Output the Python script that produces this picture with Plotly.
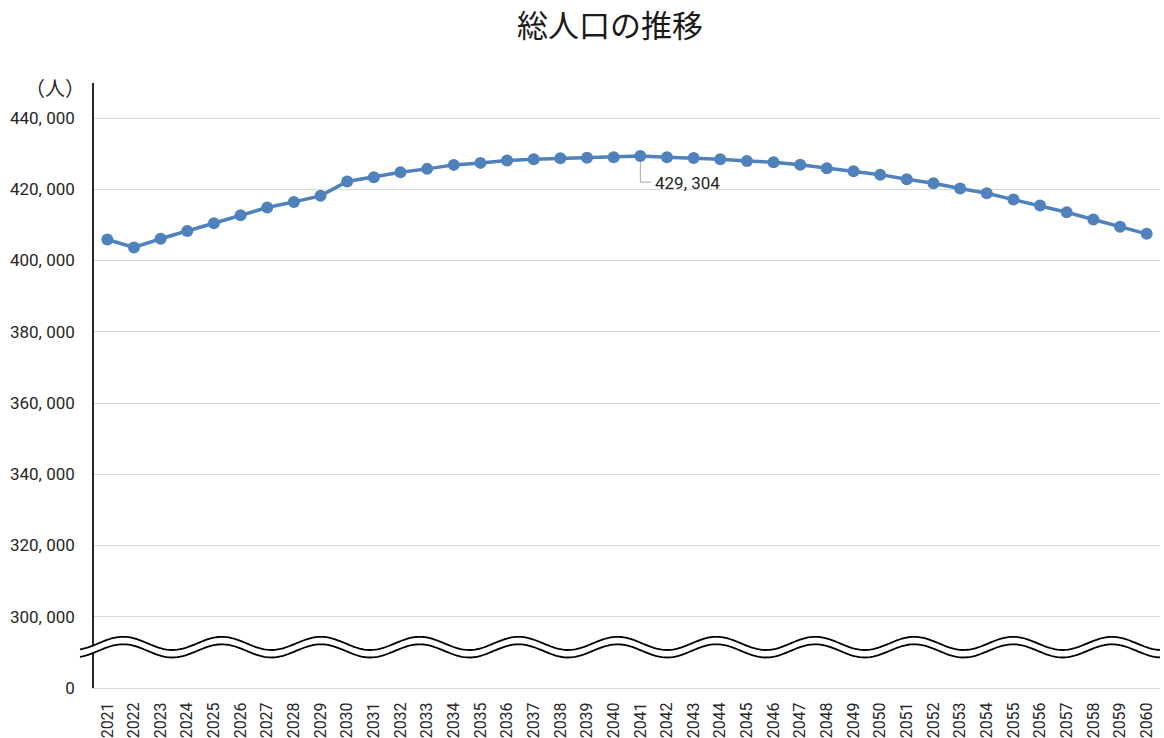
import numpy as np
import plotly.graph_objects as go

# ---- data ----
years = list(range(2021, 2061))
population = [
    405900, 403650, 406100, 408300, 410450, 412700, 414870, 416450, 418150, 422160,
    423380, 424750, 425720, 426840, 427400, 428050, 428430, 428700, 428850, 429000,
    429304, 428950, 428750, 428400, 427950, 427550, 426900, 425900, 425050, 424100,
    422800, 421700, 420200, 418880, 417100, 415430, 413550, 411500, 409450, 407480,
]
# axis is broken: bottom of axis (value 280,000 position) is labelled 0
tick_values = [280000, 300000, 320000, 340000, 360000, 380000, 400000, 420000, 440000]
tick_labels = ["0", "300, 000", "320, 000", "340, 000", "360, 000", "380, 000",
               "400, 000", "420, 000", "440, 000"]
peak_year = 2041
peak_value = 429304
peak_label = "429, 304"

W, H = 1164, 738
L, R, T, B = 94, 4, 83, 50
PW, PH = W - L - R, H - T - B

FONT = "Roboto, sans-serif"
BLUE = "#4f81bd"

fig = go.Figure()
fig.add_trace(go.Scatter(
    x=years, y=population, mode="lines+markers",
    line=dict(color=BLUE, width=3.5),
    marker=dict(color=BLUE, size=12),
    showlegend=False, hoverinfo="x+y",
))

# data label for peak with elbow leader
fig.add_annotation(
    x=peak_year, y=peak_value, text=peak_label, showarrow=False,
    xanchor="left", yanchor="middle", xshift=13, yshift=-27,
    font=dict(family=FONT, size=17, color="#262626"),
)
fig.add_shape(
    type="path", xref="x", yref="y", xsizemode="pixel", ysizemode="pixel",
    xanchor=peak_year, yanchor=peak_value,
    path="M 0,-6 L 0,-26 L 11,-26",
    line=dict(color="#a6a6a6", width=1),
)

# wavy axis-break marks (decoration, in paper coords)
def px2paper(xpix, ypix):
    return (xpix - L) / PW, (H - B - ypix) / PH

xs = np.linspace(80, 1160, 400)
period, phase_x, amp = 98.9, 123.0, 6.6
upper = 643.4 - amp * np.cos(2 * np.pi * (xs - phase_x) / period)
lower = upper + 7.5

def poly(xa, ya):
    pts = [px2paper(a, b) for a, b in zip(xa, ya)]
    return "M " + " L ".join(f"{p[0]:.5f},{p[1]:.5f}" for p in pts)

fill_path = poly(np.concatenate([xs, xs[::-1]]), np.concatenate([upper - 0.5, (lower + 0.5)[::-1]])) + " Z"
fig.add_shape(type="path", xref="paper", yref="paper", path=fill_path,
              fillcolor="white", line=dict(width=0), layer="above")
fig.add_shape(type="path", xref="paper", yref="paper", path=poly(xs, upper),
              line=dict(color="black", width=1.8), layer="above")
fig.add_shape(type="path", xref="paper", yref="paper", path=poly(xs, lower),
              line=dict(color="black", width=1.8), layer="above")

# unit label
fig.add_annotation(
    x=(87 - L) / PW, y=(H - B - 88) / PH, xref="paper", yref="paper",
    text="（人）", showarrow=False, xanchor="right", yanchor="middle",
    font=dict(family="Noto Sans CJK JP, sans-serif", size=20, color="#262626"),
)

fig.update_layout(
    width=W, height=H,
    margin=dict(l=L, r=R, t=T, b=B, pad=0, autoexpand=False),
    paper_bgcolor="white", plot_bgcolor="white",
    title=dict(text="総人口の推移", x=610 / W, xref="container", xanchor="center",
               y=1 - 26 / H, yref="container", yanchor="middle",
               font=dict(family="Noto Sans CJK JP, sans-serif", size=31, color="#1a1a1a")),
    xaxis=dict(
        range=[2020.5, 2060.5], tickmode="array", tickvals=years,
        ticktext=[str(y) for y in years], tickangle=-90,
        showgrid=False, zeroline=False, automargin=False,
        showline=True, linecolor="#d9d9d9", linewidth=1,
        ticks="", ticklabelstandoff=7,
        tickfont=dict(family=FONT, size=16, color="#262626"),
    ),
    yaxis=dict(
        range=[280000, 280000 + PH * 280.7], tickmode="array",
        tickvals=tick_values, ticktext=tick_labels, automargin=False,
        showgrid=True, gridcolor="#d9d9d9", gridwidth=1, zeroline=False,
        showline=True, linecolor="#262626", linewidth=1.5,
        ticks="", ticklabelstandoff=14,
        tickfont=dict(family=FONT, size=17, color="#262626"),
    ),
)

fig.write_html(
    "out.html",
    config={"displayModeBar": False},
    post_script="document.body.style.margin='0';document.body.style.padding='0';",
)
